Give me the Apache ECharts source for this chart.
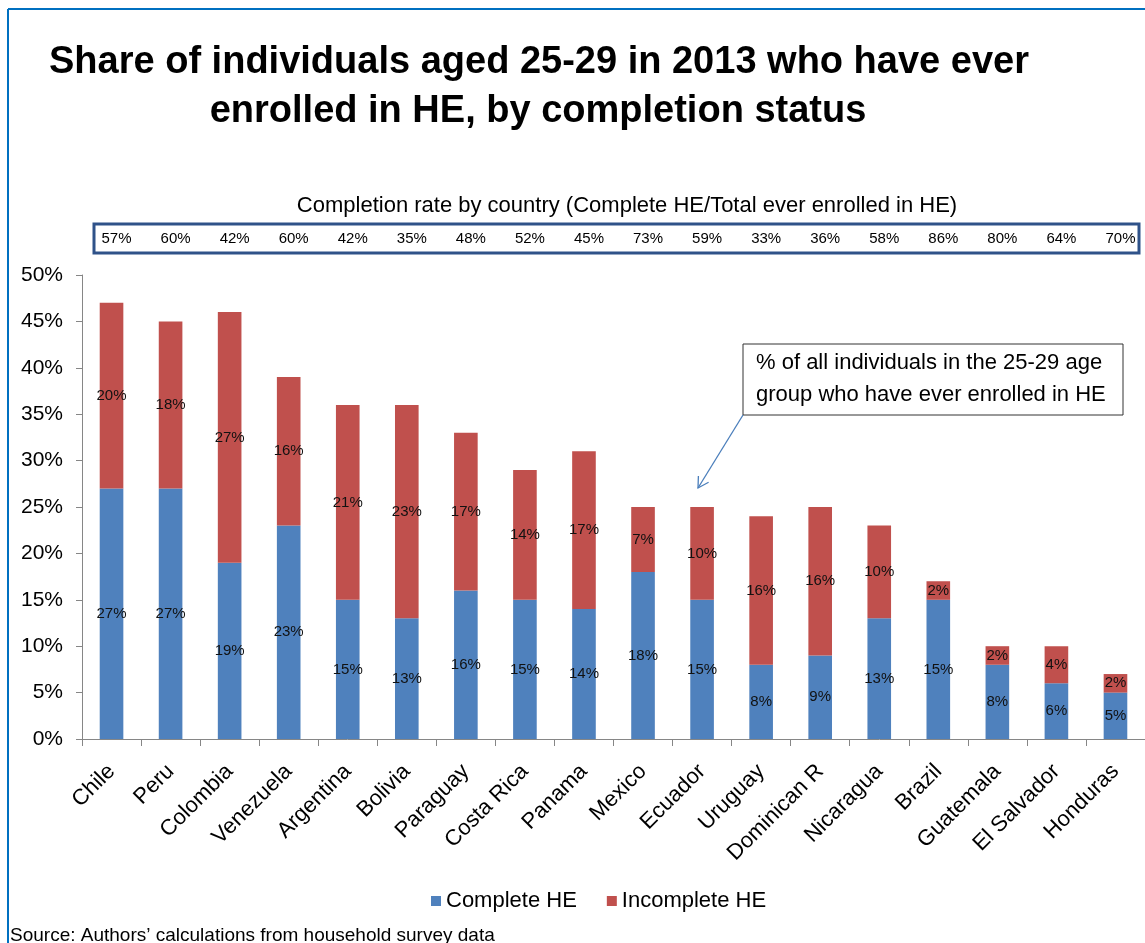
<!DOCTYPE html>
<html>
<head>
<meta charset="utf-8">
<script src="https://cdn.jsdelivr.net/npm/echarts@6/dist/echarts.min.js"></script>
<style>
html,body{margin:0;padding:0;background:#fff;}
#chart{width:1145px;height:943px;}
</style>
</head>
<body>
<div id="chart"></div>
<script>
const countries = ['Chile','Peru','Colombia','Venezuela','Argentina','Bolivia','Paraguay','Costa Rica','Panama','Mexico','Ecuador','Uruguay','Dominican R','Nicaragua','Brazil','Guatemala','El Salvador','Honduras'];
const completeHE = [27,27,19,23,15,13,16,15,14,18,15,8,9,13,15,8,6,5];
const incompleteHE = [20,18,27,16,21,23,17,14,17,7,10,16,16,10,2,2,4,2];
const completionRate = [57,60,42,60,42,35,48,52,45,73,59,33,36,58,86,80,64,70];
const yTicks = {min:0, max:50, interval:5};

const FONT = "'Liberation Sans', Arial, sans-serif";
const chart = echarts.init(document.getElementById('chart'));

const option = {
  backgroundColor: '#ffffff',
  animation: false,
  textStyle: {fontFamily: FONT},
  grid: {left: 82, top: 275, right: -9, bottom: 204, containLabel: false},
  legend: {
    data: ['Complete HE','Incomplete HE'],
    left: 431, top: 890,
    itemWidth: 10, itemHeight: 10, itemGap: 30,
    icon: 'rect',
    padding: 0,
    textStyle: {fontSize: 22, color: '#000', fontFamily: FONT}
  },
  xAxis: [{
    type: 'category',
    data: countries,
    position: 'bottom',
    axisLine: {show: true, lineStyle: {color: '#868686', width: 1}},
    axisTick: {show: true, alignWithLabel: false, length: 7, lineStyle: {color: '#868686'}},
    axisLabel: {interval: 0, rotate: 45, fontSize: 22, color: '#000', margin: 29, fontFamily: FONT},
    splitLine: {show: false}
  },{
    type: 'category',
    data: countries,
    position: 'top',
    axisLine: {show: false},
    axisTick: {show: false},
    axisLabel: {
      interval: 0, fontSize: 15, color: '#000', margin: 29, fontFamily: FONT,
      padding: [0,0,0,10],
      formatter: function (v, i) { return completionRate[i] + '%'; }
    },
    splitLine: {show: false}
  }],
  yAxis: {
    type: 'value',
    min: yTicks.min, max: yTicks.max, interval: yTicks.interval,
    axisLine: {show: true, lineStyle: {color: '#868686', width: 1}},
    axisTick: {show: true, length: 6, lineStyle: {color: '#868686'}},
    axisLabel: {formatter: '{value}%', fontSize: 21, color: '#000', margin: 19, fontFamily: FONT},
    splitLine: {show: false}
  },
  series: [{
    name: 'Complete HE',
    type: 'bar',
    stack: 'he',
    xAxisIndex: 0,
    barWidth: '40%',
    data: completeHE,
    itemStyle: {color: '#4f81bd'},
    label: {show: true, position: 'inside', formatter: '{c}%', color: '#111', fontSize: 15, fontFamily: FONT}
  },{
    name: 'Incomplete HE',
    type: 'bar',
    stack: 'he',
    xAxisIndex: 0,
    barWidth: '40%',
    data: incompleteHE,
    itemStyle: {color: '#c0504d'},
    label: {show: true, position: 'inside', formatter: '{c}%', color: '#111', fontSize: 15, fontFamily: FONT}
  }],
  graphic: [
    {type: 'line', shape: {x1: 8, y1: 9, x2: 1145, y2: 9}, style: {stroke: '#0070c0', lineWidth: 2}},
    {type: 'line', shape: {x1: 8, y1: 9, x2: 8, y2: 943}, style: {stroke: '#0070c0', lineWidth: 2}},
    {type: 'text', x: 539, y: 63, style: {text: 'Share of individuals aged 25-29 in 2013 who have ever', font: 'bold 38px ' + FONT, fill: '#000', textAlign: 'center', textVerticalAlign: 'middle'}},
    {type: 'text', x: 538, y: 112, style: {text: 'enrolled in HE, by completion status', font: 'bold 38px ' + FONT, fill: '#000', textAlign: 'center', textVerticalAlign: 'middle'}},
    {type: 'text', x: 627, y: 206, style: {text: 'Completion rate by country (Complete HE/Total ever enrolled in HE)', font: '22px ' + FONT, fill: '#000', textAlign: 'center', textVerticalAlign: 'middle'}},
    {type: 'rect', shape: {x: 94, y: 224, width: 1045, height: 29}, style: {fill: 'none', stroke: '#2f5289', lineWidth: 3}},
    {type: 'rect', shape: {x: 743, y: 344, width: 380, height: 71}, style: {fill: '#fff', stroke: '#333', lineWidth: 1}},
    {type: 'text', x: 756, y: 363, style: {text: '% of all individuals in the 25-29 age', font: '22px ' + FONT, fill: '#000', textAlign: 'left', textVerticalAlign: 'middle'}},
    {type: 'text', x: 756, y: 395, style: {text: 'group who have ever enrolled in HE', font: '22px ' + FONT, fill: '#000', textAlign: 'left', textVerticalAlign: 'middle'}},
    {type: 'line', shape: {x1: 743, y1: 415, x2: 698, y2: 488}, style: {stroke: '#4a7ebb', lineWidth: 1.3}},
    {type: 'polyline', shape: {points: [[708.6, 482.3],[698, 488],[698.4, 476]]}, style: {stroke: '#4a7ebb', lineWidth: 1.3, fill: 'none'}},
    {type: 'text', x: 10, y: 936, style: {text: 'Source: Authors\u2019 calculations from household survey data', font: '19px ' + FONT, fill: '#000', textAlign: 'left', textVerticalAlign: 'middle'}}
  ]
};
chart.setOption(option);
</script>
</body>
</html>
